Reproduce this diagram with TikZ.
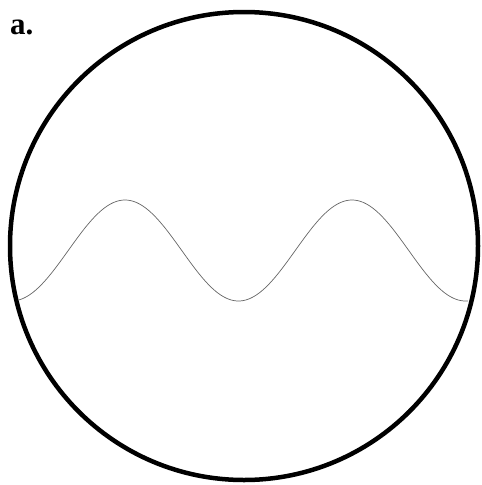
\documentclass[tikz,border=0pt]{standalone}
\usepackage{fontspec}
\setmainfont{Liberation Serif}
\begin{document}
\begin{tikzpicture}[x=1pt,y=-1pt,
  rim/.style={line width=4.5pt,black},
  wave/.style={line width=0.7pt,black!60}]
\useasboundingbox (0,0) rectangle (482,485);
\draw[rim] (244,246) circle[radius=234];
\draw[wave] plot[domain=18:468,samples=300,smooth] (\x,{250.5-50.5*cos(((\x-125)/227)*360)});
\node[anchor=base west,inner sep=0pt,font=\fontsize{31}{31}\selectfont\bfseries] (lbl) at (10,34) {a.};
\end{tikzpicture}
\end{document}
